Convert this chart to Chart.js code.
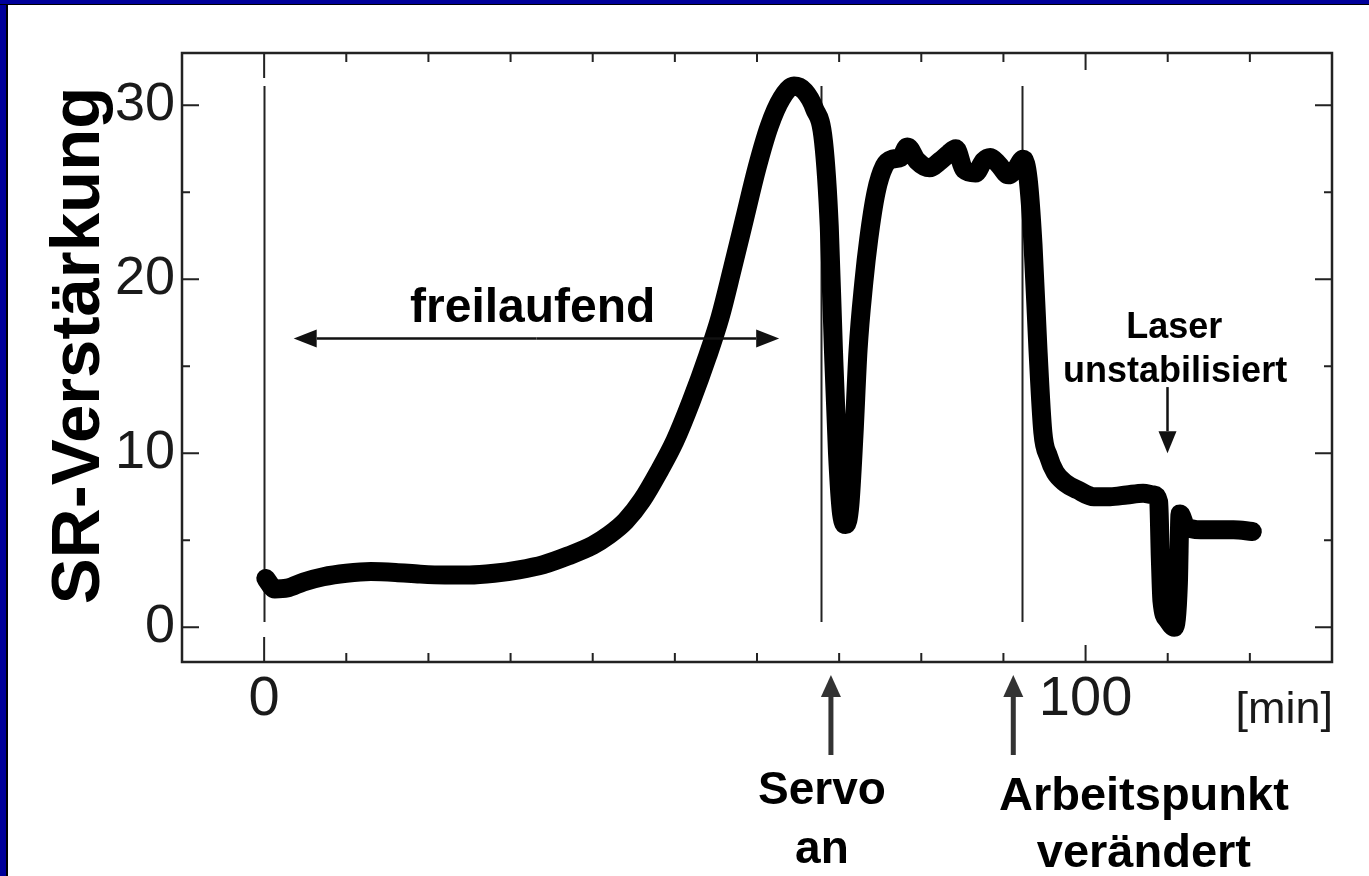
<!DOCTYPE html>
<html><head><meta charset="utf-8">
<script src="https://cdn.jsdelivr.net/npm/chart.js@4.4.1/dist/chart.umd.min.js"></script>
<style>
html,body{margin:0;padding:0;background:#fff;}
body{width:1369px;height:876px;position:relative;overflow:hidden;}
#frameL{position:absolute;left:0;top:0;width:6px;height:876px;background:#00009a;border-right:2px solid #000;}
#frameT{position:absolute;left:0;top:0;width:1369px;height:4px;background:#00009a;border-bottom:1px solid #000;}
canvas{position:absolute;left:0;top:0;}
</style></head><body>
<canvas id="c" width="1369" height="876"></canvas>
<div id="frameL"></div><div id="frameT"></div>
<script>
// ---- data ----
const timeMin = [0.2,1.3,2.8,4.8,7.2,10,13,16,19,22,25,28,31,34,37,40,42,44,46,48,50,52,54,55.5,57,58.5,60,61.5,63,64.5,65.8,67.0,68.1,68.8,69.3,69.8,70.3,70.8,71.3,71.8,72.3,73.0,73.6,74.5,75.5,76.5,77.5,78.3,79.5,81,82.3,83.3,84.2,85.2,86.6,87.6,88.4,89.4,90.6,91.6,92.4,93.0,93.6,94.2,94.8,95.5,96.3,97.5,99,101,103,105,107,108.3,108.9,109.1,109.3,110.0,110.8,111.3,111.5,112.2,114,116,118,120.3];
const gain = [2.8,2.2,2.25,2.6,2.9,3.1,3.2,3.15,3.05,3.0,3.0,3.1,3.3,3.6,4.1,4.7,5.3,6.1,7.3,8.9,10.7,13.0,15.6,17.8,20.6,23.5,26.4,28.8,30.4,31.1,30.8,29.8,27.9,23,16,10,6.5,5.9,7.0,11,15.9,19.8,22.3,25.0,26.5,26.9,27.0,27.6,26.8,26.4,26.8,27.2,27.5,26.3,26.1,26.8,27.0,26.6,26.0,26.4,26.9,25.8,22,16,11.2,9.8,8.9,8.3,7.9,7.5,7.5,7.6,7.7,7.6,7.2,4.0,1.5,0.4,0.0,2.5,6.5,5.8,5.6,5.6,5.6,5.5];
const xTickLabels = [0, 100];
const yTickLabels = [0, 10, 20, 30];
const xMinorTicks = [10,20,30,40,50,60,70,80,90,110,120];
const yMinorTicks = [5,15,25];
const markerLines = [0, 67.8, 92.3];   // vertical event lines [min]
const markerSpan = [0.3, 31.1];        // their extent in gain units
const xRange = [-10, 130];
const yRange = [-2, 33];
const yTitle = 'SR-Verstärkung';
const xUnit = '[min]';
const freiText = 'freilaufend';
const freiArrow = {from: 3.6, to: 62.7, at: 16.6};
const laserText = ['Laser', 'unstabilisiert'];
const laserArrow = {at: 109.9, from: 13.8, to: 10.0};
const servoText = ['Servo', 'an'];
const servoArrowAt = 69.0;
const apText = ['Arbeitspunkt', 'verändert'];
const apArrowAt = 91.2;

const FONT = '"Liberation Sans", Arial, Helvetica, sans-serif';
const INK = '#1a1a1a';

function arrow(ctx, x1, y1, x2, y2, head, half, lw, color){
  const dx = x2-x1, dy = y2-y1, L = Math.hypot(dx,dy), ux = dx/L, uy = dy/L;
  const bx = x2 - ux*head, by = y2 - uy*head;
  ctx.strokeStyle = color; ctx.fillStyle = color; ctx.lineWidth = lw;
  ctx.beginPath(); ctx.moveTo(x1,y1); ctx.lineTo(bx,by); ctx.stroke();
  ctx.beginPath(); ctx.moveTo(x2,y2); ctx.lineTo(bx - uy*half, by + ux*half); ctx.lineTo(bx + uy*half, by - ux*half); ctx.closePath(); ctx.fill();
}

const decor = {
  id: 'decor',
  beforeDatasetsDraw(chart){
    const {ctx, scales:{x, y}} = chart;
    ctx.save();
    ctx.strokeStyle = '#222'; ctx.lineWidth = 2;
    markerLines.forEach(t => {
      const px = Math.round(x.getPixelForValue(t)) + 0.5;
      ctx.beginPath();
      ctx.moveTo(px, y.getPixelForValue(markerSpan[1]));
      ctx.lineTo(px, y.getPixelForValue(markerSpan[0]));
      ctx.stroke();
    });
    ctx.restore();
  },
  afterDatasetsDraw(chart){
    const {ctx, chartArea:a, scales:{x, y}} = chart;
    ctx.save();
    // frame box
    ctx.strokeStyle = '#222'; ctx.lineWidth = 2.5;
    ctx.strokeRect(a.left, a.top, a.right - a.left, a.bottom - a.top);
    // ticks (inward)
    ctx.lineWidth = 2;
    const vt = (v, len) => { const px = x.getPixelForValue(v);
      ctx.beginPath(); ctx.moveTo(px, a.bottom); ctx.lineTo(px, a.bottom - len);
      ctx.moveTo(px, a.top); ctx.lineTo(px, a.top + len); ctx.stroke(); };
    const ht = (v, len) => { const py = y.getPixelForValue(v);
      ctx.beginPath(); ctx.moveTo(a.left, py); ctx.lineTo(a.left + len, py);
      ctx.moveTo(a.right, py); ctx.lineTo(a.right - len, py); ctx.stroke(); };
    xMinorTicks.forEach(v => vt(v, 9));
    xTickLabels.forEach(v => vt(v, v === 0 ? 25 : 17));
    yMinorTicks.forEach(v => ht(v, 8));
    yTickLabels.forEach(v => ht(v, 17));

    // unit label
    ctx.fillStyle = INK; ctx.font = '45px ' + FONT;
    ctx.textAlign = 'right'; ctx.textBaseline = 'alphabetic';
    ctx.fillText(xUnit, a.right + 1, a.bottom + 61);

    // y title
    ctx.save();
    ctx.translate(99, y.getPixelForValue(16.2));
    ctx.rotate(-Math.PI/2);
    ctx.fillStyle = '#000'; ctx.font = 'bold 69px ' + FONT;
    ctx.textAlign = 'center';
    ctx.fillText(yTitle, 0, 0);
    ctx.restore();

    // freilaufend
    ctx.fillStyle = '#000'; ctx.textAlign = 'center';
    ctx.font = 'bold 48px ' + FONT;
    ctx.fillText(freiText, x.getPixelForValue(32.7), y.getPixelForValue(17.56));
    const fy = Math.round(y.getPixelForValue(freiArrow.at)) + 0.5;
    const fx1 = x.getPixelForValue(freiArrow.from), fx2 = x.getPixelForValue(freiArrow.to);
    const fm = (fx1 + fx2) / 2;
    arrow(ctx, fm, fy, fx1, fy, 23, 9, 2.5, '#111');
    arrow(ctx, fm, fy, fx2, fy, 23, 9, 2.5, '#111');

    // Laser unstabilisiert
    ctx.fillStyle = '#000'; ctx.font = 'bold 36px ' + FONT;
    ctx.fillText(laserText[0], x.getPixelForValue(110.8), y.getPixelForValue(16.64));
    ctx.fillText(laserText[1], x.getPixelForValue(110.9), y.getPixelForValue(14.1));
    const lx = Math.round(x.getPixelForValue(laserArrow.at)) + 0.5;
    arrow(ctx, lx, y.getPixelForValue(laserArrow.from), lx, y.getPixelForValue(laserArrow.to), 22, 9, 2.5, '#111');

    // up arrows below axis
    const sx = x.getPixelForValue(servoArrowAt);
    arrow(ctx, sx, a.bottom + 93, sx, a.bottom + 13, 22, 10, 5, '#333');
    const apx = x.getPixelForValue(apArrowAt);
    arrow(ctx, apx, a.bottom + 93, apx, a.bottom + 13, 22, 10, 5, '#333');

    // bottom captions
    ctx.fillStyle = '#000'; ctx.font = 'bold 46px ' + FONT; ctx.textAlign = 'center';
    ctx.fillText(servoText[0], x.getPixelForValue(67.9), a.bottom + 142);
    ctx.fillText(servoText[1], x.getPixelForValue(67.9), a.bottom + 201);
    ctx.font = 'bold 47px ' + FONT;
    ctx.fillText(apText[0], x.getPixelForValue(107.1), a.bottom + 148);
    ctx.fillText(apText[1], x.getPixelForValue(107.1), a.bottom + 205);
    ctx.restore();
  }
};

new Chart(document.getElementById('c'), {
  type: 'line',
  data: {
    datasets: [{
      data: timeMin.map((t, i) => ({x: t, y: gain[i]})),
      borderColor: '#000',
      borderWidth: 19,
      borderCapStyle: 'round',
      borderJoinStyle: 'round',
      pointRadius: 0,
      cubicInterpolationMode: 'monotone',
      fill: false
    }]
  },
  options: {
    responsive: false,
    devicePixelRatio: 1,
    animation: false,
    events: [],
    layout: {padding: {left: 0, right: 37, top: 53, bottom: 0}},
    plugins: {legend: {display: false}, tooltip: {enabled: false}},
    scales: {
      x: {
        type: 'linear', min: xRange[0], max: xRange[1],
        grid: {display: false, drawTicks: false}, border: {display: false},
        afterBuildTicks: s => { s.ticks = xTickLabels.map(v => ({value: v})); },
        afterFit: s => { s.height = 214; },
        ticks: {color: INK, font: {family: FONT, size: 56}, padding: 4, maxRotation: 0, autoSkip: false}
      },
      y: {
        type: 'linear', min: yRange[0], max: yRange[1],
        grid: {display: false, drawTicks: false}, border: {display: false},
        afterBuildTicks: s => { s.ticks = yTickLabels.map(v => ({value: v})); },
        afterFit: s => { s.width = 182; },
        ticks: {color: INK, font: {family: FONT, size: 54}, padding: 7}
      }
    }
  },
  plugins: [decor]
});
</script>
</body></html>
